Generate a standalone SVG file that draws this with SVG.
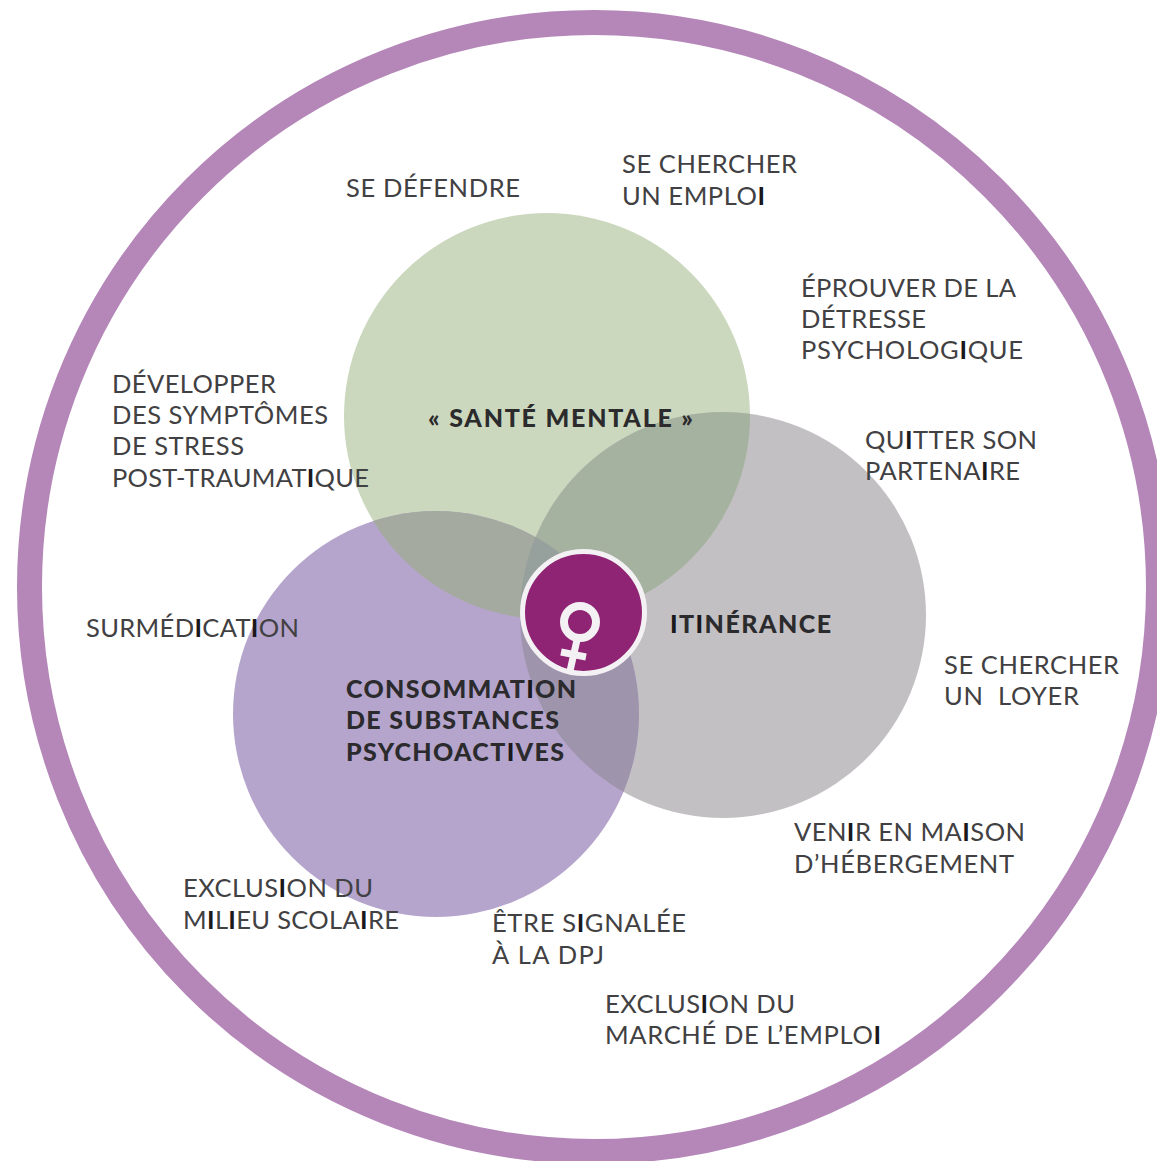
<svg xmlns="http://www.w3.org/2000/svg" width="1157" height="1161" viewBox="0 0 1157 1161">
<style>
text{font-family:Lato,"Open Sans","Liberation Sans",sans-serif;font-size:25.5px;fill:#414042;lengthAdjust:spacing}
.b{font-weight:900;fill:#2b2a2c;font-size:25px}
tspan{fill:#1a181b;font-weight:700}
.b tspan{font-weight:900}
</style>
<defs>
<clipPath id="cg"><circle cx="547" cy="416" r="203"/></clipPath>
<clipPath id="cy"><circle cx="723" cy="615" r="203"/></clipPath>
<clipPath id="cp"><circle cx="436" cy="714" r="203"/></clipPath>
</defs>
<rect width="1157" height="1161" fill="#fff"/>
<circle id="outer" cx="594" cy="587" r="564.5" fill="none" stroke="#b587b9" stroke-width="25"/>
<g id="sante"><circle cx="547" cy="416" r="203" fill="#cbd8bd"/></g>
<g id="itinerance"><circle cx="723" cy="615" r="203" fill="#c2c0c3"/></g>
<g id="consommation"><circle cx="436" cy="714" r="203" fill="#b5a5cc"/></g>
<g id="overlaps">
<circle cx="723" cy="615" r="203" fill="#a6b2a0" clip-path="url(#cg)"/>
<circle cx="436" cy="714" r="203" fill="#9e95ad" clip-path="url(#cy)"/>
<circle cx="436" cy="714" r="203" fill="#a4aa9f" clip-path="url(#cg)"/>
<g clip-path="url(#cg)"><circle cx="723" cy="615" r="203" fill="#96a09c" clip-path="url(#cp)"/></g>
</g>
<g id="center">
<circle cx="583.5" cy="612.5" r="61" fill="#8e2473" stroke="#f4f1f4" stroke-width="5"/>
<circle cx="580" cy="622" r="16" fill="none" stroke="#f4f1f4" stroke-width="8"/>
<path d="M577 640L570 671M561 652L586 657" fill="none" stroke="#f4f1f4" stroke-width="7"/>
</g>
<g id="labels">
<text class="b" x="428" y="427" textLength="265">« SANTÉ MENTALE »</text>
<text class="b" x="670" y="633" textLength="161"><tspan>I</tspan>T<tspan>I</tspan>NÉRANCE</text>
<text class="b" x="346" y="698" textLength="230">CONSOMMAT<tspan>I</tspan>ON</text>
<text class="b" x="346" y="729" textLength="213">DE SUBSTANCES</text>
<text class="b" x="346" y="761" textLength="218">PSYCHOACT<tspan>I</tspan>VES</text>
<text x="346" y="197" textLength="174">SE DÉFENDRE</text>
<text x="622" y="173" textLength="175">SE CHERCHER</text>
<text x="622" y="205" textLength="143">UN EMPLO<tspan>I</tspan></text>
<text x="801" y="297" textLength="215">ÉPROUVER DE LA</text>
<text x="801" y="328" textLength="125">DÉTRESSE</text>
<text x="801" y="359" textLength="222">PSYCHOLOG<tspan>I</tspan>QUE</text>
<text x="112" y="393" textLength="164">DÉVELOPPER</text>
<text x="112" y="424" textLength="216">DES SYMPTÔMES</text>
<text x="112" y="455" textLength="132">DE STRESS</text>
<text x="112" y="487" textLength="257">POST-TRAUMAT<tspan>I</tspan>QUE</text>
<text x="865" y="449" textLength="172">QU<tspan>I</tspan>TTER SON</text>
<text x="865" y="480" textLength="155">PARTENA<tspan>I</tspan>RE</text>
<text x="86" y="637" textLength="213">SURMÉD<tspan>I</tspan>CAT<tspan>I</tspan>ON</text>
<text x="944" y="674" textLength="175">SE CHERCHER</text>
<text x="944" y="705" textLength="135" xml:space="preserve">UN  LOYER</text>
<text x="794" y="841" textLength="231">VEN<tspan>I</tspan>R EN MA<tspan>I</tspan>SON</text>
<text x="794" y="873" textLength="220">D’HÉBERGEMENT</text>
<text x="183" y="897" textLength="190">EXCLUS<tspan>I</tspan>ON DU</text>
<text x="183" y="929" textLength="216">M<tspan>I</tspan>L<tspan>I</tspan>EU SCOLA<tspan>I</tspan>RE</text>
<text x="492" y="932" textLength="194">ÊTRE S<tspan>I</tspan>GNALÉE</text>
<text x="492" y="964" textLength="112">À LA DPJ</text>
<text x="605" y="1013" textLength="190">EXCLUS<tspan>I</tspan>ON DU</text>
<text x="605" y="1044" textLength="276">MARCHÉ DE L’EMPLO<tspan>I</tspan></text>
</g>
</svg>
